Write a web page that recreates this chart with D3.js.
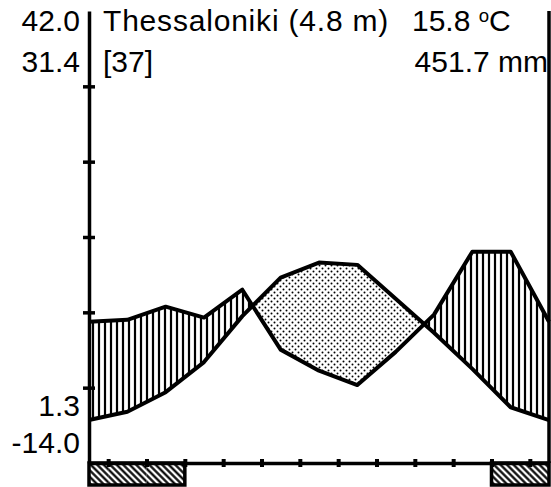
<!DOCTYPE html>
<html>
<head>
<meta charset="utf-8">
<script src="https://cdn.jsdelivr.net/npm/d3@7"></script>
<style>
  body { margin: 0; background: #fff; }
  svg text { font-family: "Liberation Sans", Arial, sans-serif; fill: #000; }
</style>
</head>
<body>
<svg id="svg" width="551" height="487"></svg>
<script>
const svg = d3.select('#svg')

// ------ data ------
const months = ['Jan', 'Feb', 'Mar', 'Apr', 'May', 'Jun', 'Jul', 'Aug', 'Sep', 'Oct', 'Nov', 'Dec']
const temp = [5.7, 6.8, 9.4, 13.4, 19.5, 24.6, 26.6, 26.3, 21.8, 17.3, 12.5, 7.4]
const precip = [37.5, 38.0, 41.5, 38.6, 46.0, 30.1, 24.5, 20.7, 29.5, 39.4, 56.1, 56.1]
const frostMonths = [0, 1, 2, 11]   // absolute min below 0
const tempTicks = [10, 20, 30, 40, 50]

const station = 'Thessaloniki (4.8 m)'
const years = '[37]'
const meanTemp = '15.8'
const totalPrecip = '451.7 mm'
const leftLabelsTop = ['42.0', '31.4']
const leftLabelsBottom = ['1.3', '-14.0']

// ------ scales ------
const x = d3.scaleLinear().domain([0, 12]).range([89, 549])
const y = d3.scaleLinear().domain([0, 60]).range([463, 11])
const yP = p => y(p / 2)    // 10 oC = 20 mm

// wrap January onto the right edge
const pts = d3.range(13).map(i => ({ i: i, t: temp[i % 12], p: precip[i % 12] }))

// ------ patterns ------
const defs = svg.append('defs')

const vert = defs.append('pattern')
    .attr('id', 'vhatch')
    .attr('patternUnits', 'userSpaceOnUse')
    .attr('width', 6).attr('height', 6)
vert.append('line')
    .attr('x1', 3).attr('y1', 0).attr('x2', 3).attr('y2', 6)
    .style('stroke', 'black').style('stroke-width', 2.2)

const dots = defs.append('pattern')
    .attr('id', 'dots')
    .attr('patternUnits', 'userSpaceOnUse')
    .attr('width', 6).attr('height', 6)
dots.append('circle').attr('cx', 1.5).attr('cy', 1.5).attr('r', 1).attr('fill', 'black')
dots.append('circle').attr('cx', 4.5).attr('cy', 4.5).attr('r', 1).attr('fill', 'black')

const diag = defs.append('pattern')
    .attr('id', 'diag')
    .attr('patternUnits', 'userSpaceOnUse')
    .attr('width', 4.6).attr('height', 4.6)
    .attr('patternTransform', 'rotate(-45)')
diag.append('line')
    .attr('x1', 2.3).attr('y1', 0).attr('x2', 2.3).attr('y2', 4.6)
    .style('stroke', 'black').style('stroke-width', 2.2)

// clip regions above / below the temperature line
const tLine = d3.line().x(d => x(d.i)).y(d => y(d.t))
const aboveT = d3.area().x(d => x(d.i)).y0(d => y(d.t)).y1(y.range()[1] - 20)
const belowT = d3.area().x(d => x(d.i)).y0(d => y(d.t)).y1(y.range()[0] + 20)

defs.append('clipPath').attr('id', 'clipAbove')
    .append('path').attr('d', aboveT(pts))
defs.append('clipPath').attr('id', 'clipBelow')
    .append('path').attr('d', belowT(pts))

const between = d3.area()
    .x(d => x(d.i))
    .y0(d => y(d.t))
    .y1(d => yP(d.p))

// humid period (precip above temperature)
svg.append('path')
    .attr('d', between(pts))
    .attr('fill', 'url(#vhatch)')
    .attr('clip-path', 'url(#clipAbove)')

// dry period (precip below temperature)
svg.append('path')
    .attr('d', between(pts))
    .attr('fill', 'url(#dots)')
    .attr('clip-path', 'url(#clipBelow)')

// ------ curves ------
svg.append('path')
    .datum(pts)
    .attr('fill', 'none')
    .attr('stroke', 'black')
    .attr('stroke-width', 4)
    .attr('stroke-linejoin', 'round')
    .attr('d', tLine)

svg.append('path')
    .datum(pts)
    .attr('fill', 'none')
    .attr('stroke', 'black')
    .attr('stroke-width', 4)
    .attr('stroke-linejoin', 'round')
    .attr('d', d3.line().x(d => x(d.i)).y(d => yP(d.p)))

// ------ frost bars ------
const barTop = y(0)
const barH = 22
const frostBars = []
frostMonths.forEach(m => {
    frostBars.push([m - 0.5, m + 0.5])
    if (m === 0) frostBars.push([11.5, 12.5])
})
svg.append('g').selectAll('rect')
    .data(frostBars)
    .join('rect')
    .attr('x', d => x(Math.max(0, d[0])))
    .attr('y', barTop)
    .attr('width', d => x(Math.min(12, d[1])) - x(Math.max(0, d[0])))
    .attr('height', barH)
    .attr('fill', 'url(#diag)')
    .attr('stroke', 'none')
// outline of merged bars
const mergeBars = () => {
    const s = frostBars.map(d => [Math.max(0, d[0]), Math.min(12, d[1])]).sort((a, b) => a[0] - b[0])
    const out = []
    s.forEach(d => {
        if (out.length && d[0] <= out[out.length - 1][1] + 1e-6) out[out.length - 1][1] = Math.max(out[out.length - 1][1], d[1])
        else out.push(d.slice())
    })
    return out
}
svg.append('g').selectAll('rect')
    .data(mergeBars())
    .join('rect')
    .attr('x', d => x(d[0]))
    .attr('y', barTop)
    .attr('width', d => x(d[1]) - x(d[0]))
    .attr('height', barH)
    .attr('fill', 'none')
    .attr('stroke', 'black')
    .attr('stroke-width', 3.5)

// ------ axes ------
const yAxis = svg.append('g')
    .attr('transform', `translate(${x(0)},0)`)
    .call(d3.axisLeft(y).tickValues(tempTicks).tickFormat('').tickSizeOuter(0))
yAxis.select('.domain').attr('stroke-width', 3.5)
yAxis.selectAll('.tick line').attr('x1', -6).attr('x2', 6).attr('stroke-width', 3.5)

svg.append('line')
    .attr('x1', x(12)).attr('x2', x(12))
    .attr('y1', y.range()[1]).attr('y2', y(0))
    .style('stroke', 'black').style('stroke-width', 3.5)

const xAxis = svg.append('g')
    .attr('transform', `translate(0,${y(0)})`)
    .call(d3.axisBottom(x).tickValues(d3.range(12).map(i => i + 0.5)).tickFormat('').tickSizeOuter(0))
xAxis.select('.domain').attr('stroke-width', 3.5)
xAxis.selectAll('.tick line').attr('y1', -4).attr('y2', 4).attr('stroke-width', 4)

// ------ texts ------
const fs = 30
svg.append('text').attr('x', 103).attr('y', 31).attr('font-size', fs)
    .attr('letter-spacing', 0.8).text(station)
svg.append('text').attr('x', 103).attr('y', 72).attr('font-size', fs).text(years)

const mt = svg.append('text').attr('x', 412).attr('y', 31).attr('font-size', fs)
mt.append('tspan').text(meanTemp + ' ')
mt.append('tspan').attr('font-size', fs * 0.62).attr('dy', -9).text('o')
mt.append('tspan').attr('dy', 9).text('C')

svg.append('text').attr('x', 548).attr('y', 72).attr('text-anchor', 'end').attr('font-size', fs).text(totalPrecip)

svg.append('g').selectAll('text')
    .data(leftLabelsTop)
    .join('text')
    .attr('x', 80)
    .attr('y', (d, i) => 31 + i * 41)
    .attr('text-anchor', 'end')
    .attr('font-size', fs)
    .text(d => d)

svg.append('g').selectAll('text')
    .data(leftLabelsBottom)
    .join('text')
    .attr('x', 80)
    .attr('y', (d, i) => 416 + i * 37)
    .attr('text-anchor', 'end')
    .attr('font-size', fs)
    .text(d => d)
</script>
</body>
</html>
